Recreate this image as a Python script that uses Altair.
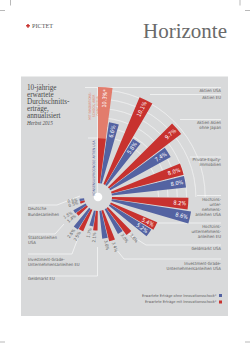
import altair as alt
import pandas as pd

# ---------------- data ----------------
kategorien = [
    "Aktien USA", "Aktien EU", "Aktien Asien ohne Japan", "Private-Equity-Immobilien",
    "Hochzinsunternehmensanleihen USA", "Hochzinsunternehmensanleihen EU", "Geldmarkt USA",
    "Investment-Grade-Unternehmensanleihen USA", "Geldmarkt EU",
    "Investment-Grade-Unternehmensanleihen EU", "Staatsanleihen USA", "Deutsche Bundesanleihen",
]
mit_innovationsschock = [10.3, 10.1, 9.7, 8.0, 8.2, 5.4, 3.6, 3.4, 2.1, 2.5, 1.4, 0.5]
ohne_innovationsschock = [6.6, 5.8, 7.4, 8.0, 8.6, 5.2, 3.0, 3.0, 1.7, 2.6, 1.5, 0.5]
konsens_aktien_usa = 4.8
gitter_werte = [5, 6, 7, 8, 9, 10]

labels_rechts = [
    "Aktien USA", "Aktien EU", "Aktien Asien\nohne Japan", "Private-Equity-\nImmobilien",
    "Hochzins-\nunter-\nnehmens-\nanleihen USA", "Hochzins-\nunternehmens-\nanleihen EU",
    "Geldmarkt USA", "Investment-Grade-\nUnternehmensanleihen USA",
]
labels_links = [
    "Deutsche\nBundesanleihen", "Staatsanleihen\nUSA",
    "Investment-Grade-\nUnternehmensanleihen EU", "Geldmarkt EU",
]
legende = ["Erwartete Erträge ohne Innovationsschock*", "Erwartete Erträge mit Innovationsschock*"]
titel = "10-jährige\nerwartete\nDurchschnitts-\nerträge,\nannualisiert"

# ---------------- layout / style ----------------
W, H = 250, 345
CX, CY = 98, 197
PERIODE, BREITE, VERSATZ = 22.6, 7.6, 8.4
ROT, BLAU, LACHS = "#c8322f", "#5463a2", "#e27c6c"
PANEL, GRAU = "#d8d9da", "#5c5c5c"
NARROW = "Liberation Sans Narrow, DejaVu Sans Condensed, Roboto, sans-serif"
SERIF = "Liberation Serif, DejaVu Serif, serif"

y_rechts = [89, 96, 121, 158, 198, 225, 247, 262]
y_links = [207, 235.5, 257.5, 277]
leader = pd.DataFrame([
    (85, 87.5, 221, 87.5), (150, 94.5, 221, 94.5), (180, 119.5, 221, 119.5),
    (190, 157, 221, 157), (197, 195.5, 221, 195.5), (158, 223, 221, 223),
    (127, 233, 146, 245), (146, 245, 221, 245), (112, 244, 124, 259), (124, 259, 221, 259),
    (28, 205, 57, 205), (57, 205, 80, 196), (28, 234, 55, 234), (55, 234, 64, 224),
    (28, 254, 72, 254), (72, 254, 78, 238), (28, 276, 97.5, 276), (97.5, 276, 97.5, 247),
    (97.6, 88, 97.6, 197), (88, 138, 98, 138),
], columns=["x", "y", "x2", "y2"])
crop = pd.DataFrame([
    (10.5, 0, 10.5, 5.5), (0, 10.5, 5, 10.5), (240, 0, 240, 5.5), (245, 10.5, 250, 10.5),
    (0, 342, 5, 342), (245, 342, 250, 342),
], columns=["x", "y", "x2", "y2"])

# ---------------- tables ----------------
rows = []
for i, k in enumerate(kategorien):
    m, o = mit_innovationsschock[i], ohne_innovationsschock[i]
    rows.append(dict(kat=k, i=i, serie="mit", farbe="mit_hell" if i == 0 else "mit", v=m,
                     label=f"{m:.1f}%" + ("*" if i == 0 else "")))
    rows.append(dict(kat=k, i=i, serie="ohne", farbe="ohne", v=o, label=f"{o:.1f}%"))
df = pd.DataFrame(rows)
df_konsens = pd.DataFrame([dict(kat=kategorien[0], i=0, serie="mit", farbe="mit", v=konsens_aktien_usa, label="")])
df_grid = pd.DataFrame({"g": gitter_werte, "a0": [0] * len(gitter_werte), "a1": [90] * len(gitter_werte)})
one = pd.DataFrame({"a": [0]})

theta_scale = alt.Scale(domain=[0, 360], range=[0, 6.283185307179586])
r_scale = alt.Scale(type="linear", domain=[-1.5, 10.3], range=[0, 110], nice=False, zero=False)
color_scale = alt.Scale(domain=["ohne", "mit", "mit_hell"], range=[BLAU, ROT, LACHS])


def polar(data):
    return alt.Chart(data).transform_calculate(
        t0=f"datum.i * {PERIODE} + (datum.serie == 'ohne' ? {VERSATZ} : 0)"
    ).transform_calculate(
        t1=f"datum.t0 + {BREITE}", tm=f"datum.t0 + {BREITE / 2}"
    ).transform_calculate(
        ang="datum.tm <= 180 ? (datum.tm + 270) % 360 : datum.tm + 90"
    )


def arcs(data):
    return polar(data).mark_arc().encode(
        theta=alt.Theta("t0:Q", scale=theta_scale, stack=None),
        theta2="t1:Q",
        radius=alt.Radius("v:Q", scale=r_scale),
        color=alt.Color("farbe:N", scale=color_scale, legend=None),
        x=alt.value(CX), y=alt.value(CY),
    )


def bar_labels(filt, align, offset, col, size):
    return polar(df).transform_filter(filt).mark_text(
        align=align, baseline="middle", radiusOffset=offset, font=NARROW,
        fontSize=size, color=col,
    ).encode(
        theta=alt.Theta("tm:Q", scale=theta_scale, stack=None),
        radius=alt.Radius("v:Q", scale=r_scale),
        angle=alt.Angle("ang:Q", scale=None),
        text="label:N",
        x=alt.value(CX), y=alt.value(CY),
    )


def segs(data, color, width):
    return alt.Chart(data).mark_rule(color=color, strokeWidth=width).encode(
        x=alt.X("x:Q", scale=None, axis=None), y=alt.Y("y:Q", scale=None, axis=None),
        x2="x2:Q", y2="y2:Q",
    )


def text_at(txt, x, y, **kw):
    return alt.Chart(one).mark_text(**kw).encode(x=alt.value(x), y=alt.value(y), text=alt.value(txt))


panel = alt.Chart(one).mark_rect(color=PANEL).encode(
    x=alt.value(21), x2=alt.value(228), y=alt.value(76.5), y2=alt.value(316))

grid = alt.Chart(df_grid).mark_arc(fill="transparent", stroke="white", strokeWidth=0.45, opacity=0.7).encode(
    theta=alt.Theta("a0:Q", scale=theta_scale, stack=None), theta2="a1:Q",
    radius=alt.Radius("g:Q", scale=r_scale), radius2="g:Q",
    x=alt.value(CX), y=alt.value(CY),
)

center = alt.Chart(one).mark_circle(color="white", opacity=1, size=75).encode(
    x=alt.value(CX), y=alt.value(CY))

lab_in = bar_labels("datum.v >= 5", "right", -2, "white", 5.6)
lab_out_up = bar_labels("datum.v < 5 && datum.tm <= 180", "left", 2, GRAU, 4.4)
lab_out_low = bar_labels("datum.v < 5 && datum.tm > 180", "right", 2, GRAU, 4.4)

df_r = pd.DataFrame({"t": labels_rechts, "y": y_rechts})
right = alt.Chart(df_r).mark_text(align="right", baseline="top", font=NARROW, fontSize=4.3,
                                  lineHeight=5.0, lineBreak="\n", color=GRAU).encode(
    x=alt.value(221), y=alt.Y("y:Q", scale=None, axis=None), text="t:N")
df_l = pd.DataFrame({"t": labels_links, "y": y_links})
left = alt.Chart(df_l).mark_text(align="left", baseline="top", font=NARROW, fontSize=4.3,
                                 lineHeight=5.5, lineBreak="\n", color=GRAU).encode(
    x=alt.value(28), y=alt.Y("y:Q", scale=None, axis=None), text="t:N")

df_leg = pd.DataFrame({"t": legende, "y": [295.5, 302], "f": ["ohne", "mit"]})
leg_text = alt.Chart(df_leg).mark_text(align="right", baseline="middle", font=NARROW, fontSize=3.8,
                                       color=GRAU).encode(
    x=alt.value(216.5), y=alt.Y("y:Q", scale=None, axis=None), text="t:N")
leg_sq = alt.Chart(df_leg).mark_square(size=9, opacity=1).encode(
    x=alt.value(220.5), y=alt.Y("y:Q", scale=None, axis=None),
    color=alt.Color("f:N", scale=color_scale, legend=None))

title = text_at(titel, 27, 84, align="left", baseline="top", font=SERIF, fontSize=7.2,
                lineHeight=6.9, lineBreak="\n", color="#4a4a4a")
herbst = text_at("Herbst 2015", 27, 123, align="left", baseline="middle", font=SERIF, fontSize=5.2,
                 fontStyle="italic", color="#4a4a4a")
salmon_txt = text_at("MIT INNOVATIONS-\nSCHOCK, ABER\nOHNE ALPHA", 89.5, 106, angle=270, align="center",
                     baseline="middle", font=NARROW, fontSize=3.3, lineHeight=4.0, lineBreak="\n",
                     color=LACHS)
blue_txt = text_at("KONSENSUSPROGNOSE AKTIEN USA", 93.8, 168, angle=270, align="center",
                   baseline="middle", font=NARROW, fontSize=3.4, color=BLAU)
horizonte = text_at("Horizonte", 227, 38, align="right", baseline="alphabetic", font=SERIF,
                    fontSize=21, color="#6a6a6a")
pictet = text_at("PICTET", 32, 26, align="left", baseline="middle", font=SERIF, fontSize=6.2,
                 color="#555555")
logo = alt.Chart(one).mark_point(shape="cross", filled=True, size=14, color="#c8322f", opacity=1).encode(
    x=alt.value(28), y=alt.value(25.8))

chart = alt.layer(
    panel, grid, segs(leader, "white", 0.6), arcs(df), arcs(df_konsens), center,
    lab_in, lab_out_up, lab_out_low, salmon_txt, blue_txt, right, left,
    leg_text, leg_sq, title, herbst, horizonte, pictet, logo, segs(crop, "#8a8a8a", 0.6),
).properties(
    width=W, height=H, padding=0, autosize=alt.AutoSizeParams(type="none"), background="white"
).configure_view(stroke=None)

chart.save("out.html", embed_options={"renderer": "svg", "actions": False})
